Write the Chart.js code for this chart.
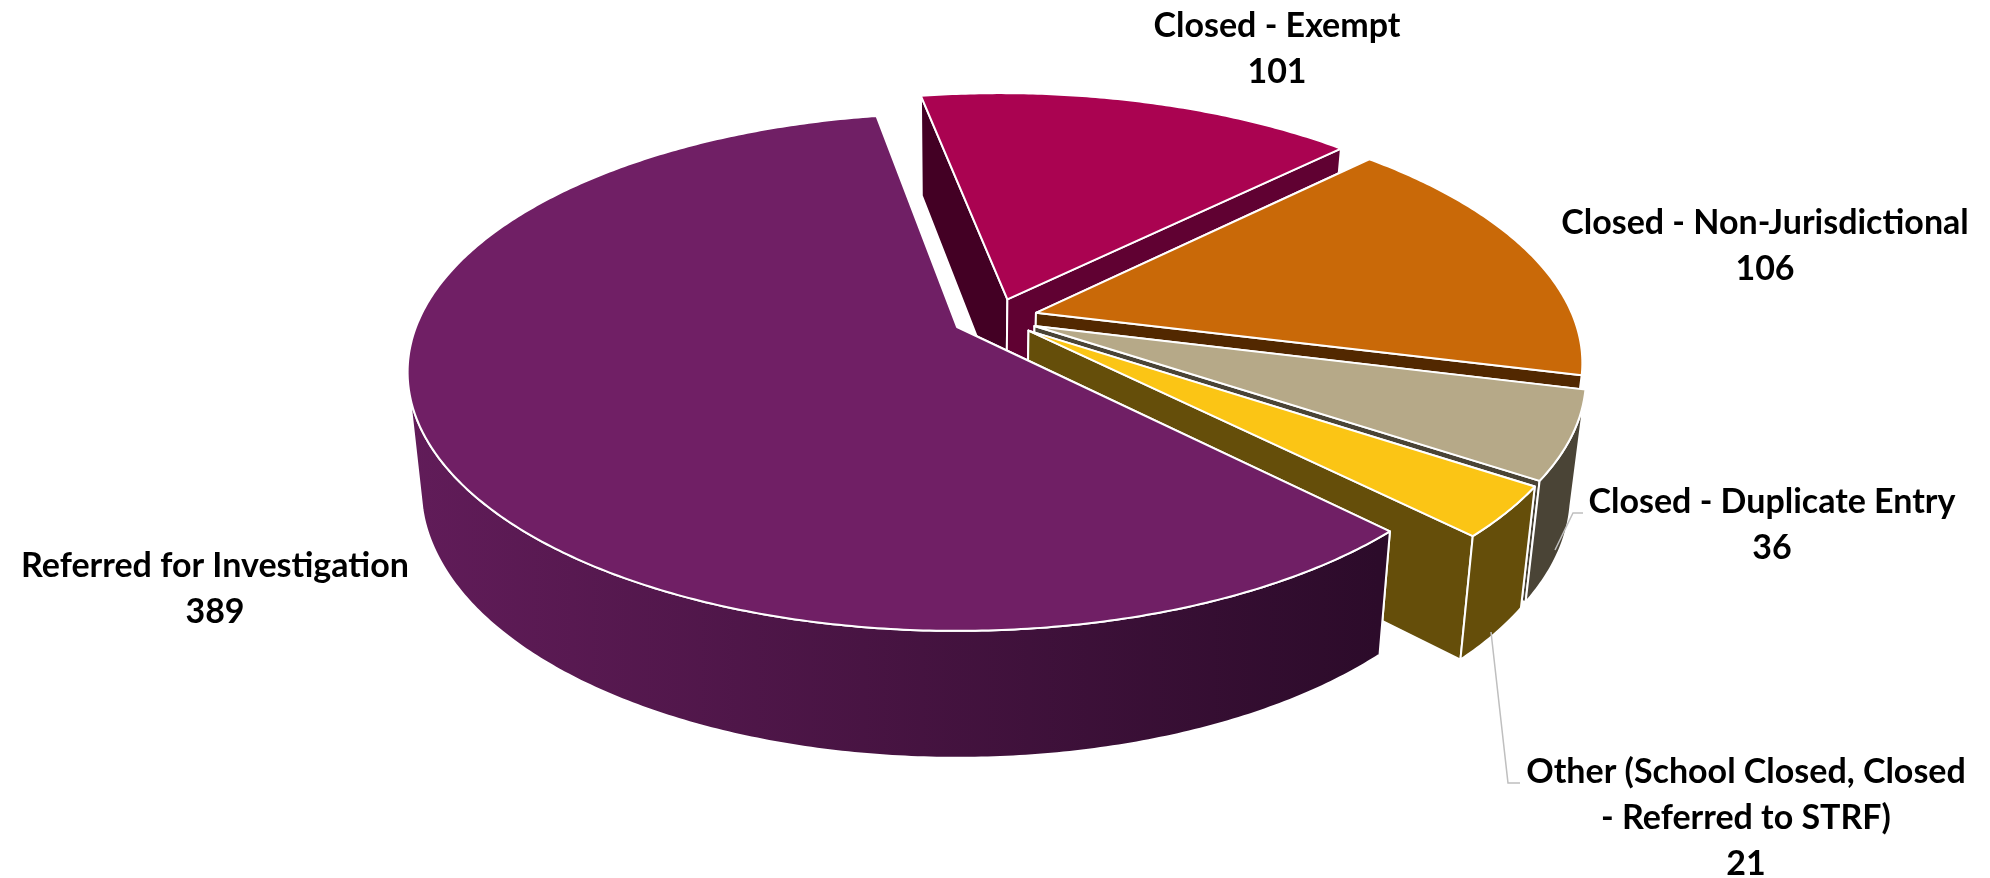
<!DOCTYPE html>
<html>
<head>
<meta charset="utf-8">
<title>Complaint outcomes</title>
<script src="https://cdn.jsdelivr.net/npm/chart.js@4"></script>
<style>
  html, body { margin: 0; background: #fff; overflow: hidden; }
  canvas { display: block; }
</style>
</head>
<body>
<canvas id="pie3d" width="1990" height="878"></canvas>
<script>
// data
const categories = ['Referred for Investigation', 'Closed - Exempt', 'Closed - Non-Jurisdictional', 'Closed - Duplicate Entry', 'Other (School Closed, Closed - Referred to STRF)'];
const values = [389, 101, 106, 36, 21];

// colours per slice
const topColors = ['#701F65', '#AA0351', '#C96908', '#B6A988', '#FBC515'];
const wallColors = ['#5E1B56', '#600132', '#522800', '#4A4436', '#654E0A'];
const startWallColors = ['#5E1B56', '#430024', '#522800', '#4A4436', '#654E0A'];
const purpleWallStops = ['#611C59', '#2C0B2A'];

// label text, one list of lines per slice, and where each block sits
const labelLines = [
  ['Referred for Investigation'],
  ['Closed - Exempt'],
  ['Closed - Non-Jurisdictional'],
  ['Closed - Duplicate Entry'],
  ['Other (School Closed, Closed', '- Referred to STRF)']
];
const labelCenters = [215, 1277, 1765, 1772, 1746];
const labelBaselines = [577, 37, 234, 513, 783];
const lineGap = 46;

// leader lines for the two outside labels
const leaders = [
  [[1583, 513], [1573, 513], [1555, 550]],
  [[1520, 783], [1508, 783], [1491, 632]]
];

// camera for the tilted pie
const RX = 541, KY = 251, PERSP = 0.174, BOTTOM_SHRINK = 0.976;
const drawOrder = [1, 2, 3, 4, 0];

function flat(cx, cy, u, v) {
  const f = 1 / (1 - PERSP * v);
  return [cx + u * f * RX, cy + KY * v * f];
}
function lower(cx, cy, u, v) {
  const p = flat(cx, cy, u, v);
  return [cx + (p[0] - cx) * BOTTOM_SHRINK, p[1] + 114 + 13 * v];
}
function fillPoly(ctx, pts, fill) {
  ctx.beginPath();
  pts.forEach((p, i) => i ? ctx.lineTo(p[0], p[1]) : ctx.moveTo(p[0], p[1]));
  ctx.closePath();
  ctx.fillStyle = fill;
  ctx.fill();
  ctx.stroke();
}

const pie3dPlugin = {
  id: 'pie3d',
  beforeDatasetsDraw(chart) {
    const ctx = chart.ctx;
    const arcs = chart.getDatasetMeta(0).data;
    const dir = a => {
      const mid = (a.startAngle + a.endAngle) / 2;
      const e = a.options.offset / a.outerRadius;
      return [Math.cos(mid) * e, Math.sin(mid) * e];
    };
    // everything is placed relative to the apex of the first slice
    const base = dir(arcs[0]);
    ctx.save();
    ctx.strokeStyle = '#fff';
    ctx.lineWidth = 2;
    ctx.lineJoin = 'round';
    drawOrder.forEach(i => {
      const a = arcs[i];
      const cx = a.x, cy = a.y;
      const d = dir(a);
      const ax = d[0] - base[0], ay = d[1] - base[1];
      const steps = Math.ceil((a.endAngle - a.startAngle) / 0.01);
      const rim = [];
      for (let s = 0; s <= steps; s++) {
        const t = a.startAngle + (a.endAngle - a.startAngle) * s / steps;
        rim.push([ax + Math.cos(t), ay + Math.sin(t)]);
      }
      const first = rim[0], last = rim[rim.length - 1];
      // cut walls
      fillPoly(ctx, [flat(cx, cy, ax, ay), flat(cx, cy, first[0], first[1]), lower(cx, cy, first[0], first[1]), lower(cx, cy, ax, ay)], startWallColors[i]);
      fillPoly(ctx, [flat(cx, cy, ax, ay), flat(cx, cy, last[0], last[1]), lower(cx, cy, last[0], last[1]), lower(cx, cy, ax, ay)], wallColors[i]);
      // outer wall, only the part that faces the viewer
      const front = rim.filter(p => p[1] - ay > 0.24);
      if (front.length > 1) {
        let fill = wallColors[i];
        if (i === 0) {
          fill = ctx.createLinearGradient(407, 0, 1378, 0);
          fill.addColorStop(0, purpleWallStops[0]);
          fill.addColorStop(1, purpleWallStops[1]);
        }
        const upper = front.map(p => flat(cx, cy, p[0], p[1]));
        const under = front.map(p => lower(cx, cy, p[0], p[1])).reverse();
        fillPoly(ctx, upper.concat(under), fill);
      }
      // top face
      const top = [flat(cx, cy, ax, ay)].concat(rim.map(p => flat(cx, cy, p[0], p[1])));
      fillPoly(ctx, top, a.options.backgroundColor);
    });
    ctx.restore();
    return false;
  },
  afterDraw(chart) {
    const ctx = chart.ctx;
    ctx.save();
    ctx.strokeStyle = '#BFBFBF';
    ctx.lineWidth = 1.5;
    leaders.forEach(l => {
      ctx.beginPath();
      l.forEach((p, i) => i ? ctx.lineTo(p[0], p[1]) : ctx.moveTo(p[0], p[1]));
      ctx.stroke();
    });
    ctx.fillStyle = '#000';
    ctx.font = 'bold 34px Lato';
    ctx.textAlign = 'center';
    ctx.textBaseline = 'alphabetic';
    labelLines.forEach((lines, i) => {
      lines.concat(String(values[i])).forEach((txt, n) => {
        ctx.fillText(txt, labelCenters[i], labelBaselines[i] + n * lineGap);
      });
    });
    ctx.restore();
  }
};

new Chart(document.getElementById('pie3d'), {
  type: 'pie',
  data: {
    labels: categories,
    datasets: [{
      data: values,
      backgroundColor: topColors,
      borderWidth: 0,
      offset: 25
    }]
  },
  options: {
    responsive: false,
    animation: false,
    devicePixelRatio: 1,
    rotation: 135.5,
    layout: { padding: { right: 76, bottom: 224 } },
    plugins: {
      legend: { display: false },
      tooltip: { enabled: false }
    }
  },
  plugins: [pie3dPlugin]
});
</script>
</body>
</html>
